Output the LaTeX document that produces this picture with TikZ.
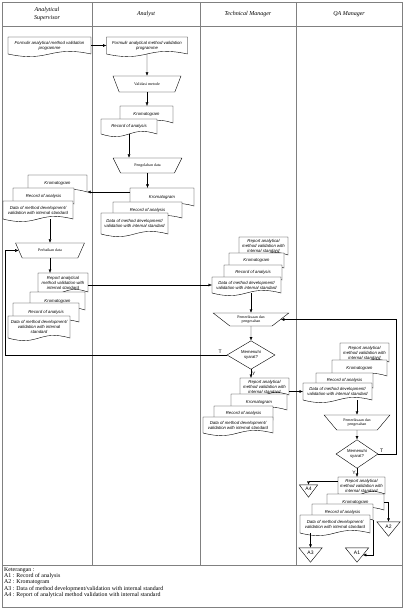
\documentclass[tikz,border=0pt]{standalone}
\usepackage{fontspec}
\setmainfont{Liberation Serif}
\setsansfont{Liberation Sans}
\usetikzlibrary{shapes.geometric, arrows.meta, positioning, calc}
\definecolor{lanecolor}{RGB}{128, 128, 128}

% document symbol: rectangle with a wavy bottom edge
\makeatletter
\pgfdeclareshape{wavedoc}{
  \inheritsavedanchors[from=rectangle]
  \inheritanchorborder[from=rectangle]
  \inheritanchor[from=rectangle]{center}
  \inheritanchor[from=rectangle]{north}
  \inheritanchor[from=rectangle]{south}
  \inheritanchor[from=rectangle]{east}
  \inheritanchor[from=rectangle]{west}
  \inheritanchor[from=rectangle]{north east}
  \inheritanchor[from=rectangle]{north west}
  \inheritanchor[from=rectangle]{south east}
  \inheritanchor[from=rectangle]{south west}
  \inheritanchor[from=rectangle]{mid}
  \inheritanchor[from=rectangle]{base}
  \backgroundpath{%
    \southwest \pgf@xa=\pgf@x \pgf@ya=\pgf@y
    \northeast \pgf@xb=\pgf@x \pgf@yb=\pgf@y
    \pgf@xc=.5\pgf@xa \advance\pgf@xc by .5\pgf@xb
    \pgf@yc=\pgf@ya \advance\pgf@yc by 9pt
    \pgf@yd=\pgf@ya \advance\pgf@yd by -9pt
    \pgfpathmoveto{\pgfqpoint{\pgf@xa}{\pgf@ya}}%
    \pgfpathlineto{\pgfqpoint{\pgf@xa}{\pgf@yb}}%
    \pgfpathlineto{\pgfqpoint{\pgf@xb}{\pgf@yb}}%
    \pgfpathlineto{\pgfqpoint{\pgf@xb}{\pgf@ya}}%
    \pgfpathcurveto{\pgfqpoint{\pgf@xc}{\pgf@yc}}{\pgfqpoint{\pgf@xc}{\pgf@yd}}{\pgfqpoint{\pgf@xa}{\pgf@ya}}%
    \pgfpathclose
  }
}
\makeatother

\begin{document}
\begin{tikzpicture}[
    x=1pt, y=-1pt,
    lane/.style={draw=lanecolor, line width=0.8pt},
    head/.style={font=\itshape\fontsize{6}{8}\selectfont, align=center},
    doc/.style={shape=wavedoc, draw, fill=white, line width=0.4pt, inner sep=0pt, outer sep=0pt, align=center, font=\sffamily\itshape\fontsize{4.3}{5}\selectfont},
    proc/.style={trapezium, trapezium stretches=true, shape border rotate=180, trapezium left angle=45, trapezium right angle=45, draw, fill=white, line width=0.4pt, inner sep=0pt, align=center, font=\fontsize{4}{4.8}\selectfont},
    decision/.style={diamond, draw, fill=white, line width=0.4pt, inner sep=0pt, align=center, font=\sffamily\fontsize{4.2}{5}\selectfont},
    offpage/.style={inner sep=0pt, font=\sffamily\fontsize{5}{5}\selectfont, append after command={\pgfextra{\draw[line width=0.4pt] (\tikzlastnode.north west) -- (\tikzlastnode.north east) -- ([yshift=-5pt]\tikzlastnode.south) -- cycle;}}},
    arr/.style={-{Latex[length=3.5pt, width=3pt]}, line width=0.4pt},
    lbl/.style={font=\sffamily\fontsize{5}{5}\selectfont, inner sep=1pt},
    legend/.style={font=\fontsize{5.9}{6.2}\selectfont, align=left, inner sep=0pt}
]
\useasboundingbox (0,0) rectangle (405,612);

% Lanes
\draw[lane] (2,2) rectangle (402,565);
\draw[lane] (2,26) -- (402,26);
\foreach \x in {92,200,296} \draw[lane] (\x,2) -- (\x,565);
\draw[lane] (2,565) rectangle (402,607);

\node[head] (hAS) at (47,14) {Analytical\\Supervisor};
\node[head] (hAN) at (146,14) {Analyst};
\node[head] (hTM) at (248,14) {Technical Manager};
\node[head] (hQA) at (349,14) {QA Manager};

% Programme
\node[doc, minimum width=83, minimum height=17] (as1) at (49.5,45.5) {Formulir analytical method validation\\programme};
\node[doc, minimum width=81, minimum height=17] (an1) at (147,45.5) {Formulir analytical method validation\\programme};
\draw[arr] (as1.east) -- (an1.west);

% Analyst
\node[proc, minimum width=68, minimum height=16] (valid) at (147,84) {Validasi metode};
\draw[arr] (an1.south) -- (valid.north);

\node[doc, minimum width=53, minimum height=17] (ankrom1) at (146.5,114.5) {Kromatogram};
\node[doc, minimum width=56, minimum height=15] (anrec1) at (129,126.5) {Record of analysis};
\draw[arr] (valid.south) -- (valid.south |- ankrom1.north);

\node[proc, minimum width=69, minimum height=15] (peng) at (147.5,165.5) {Pengolahan data};
\draw[arr] (anrec1.south) -- (anrec1.south |- peng.north);

\node[doc, minimum width=64, minimum height=18] (ankrom2) at (162,197) {Kromatogram};
\node[doc, minimum width=69, minimum height=16] (anrec2) at (147.5,210) {Record of analysis};
\node[doc, minimum width=67, minimum height=21] (andat2) at (134.5,223.5) {Data of method development/\\validation with internal standard};
\draw[arr] (peng.south) -- (peng.south |- ankrom2.north);

% Analytical Supervisor
\node[doc, minimum width=59, minimum height=17] (askrom1) at (57.5,183.5) {Kromatogram};
\node[doc, minimum width=61, minimum height=16] (asrec1) at (43.5,196) {Record of analysis};
\node[doc, minimum width=70, minimum height=18] (asdat1) at (38,210) {Data of method development/\\validation with internal standard};
\coordinate (ret) at ([yshift=5pt]ankrom2.west);
\draw[arr] (ret) -- (ret -| askrom1.east);

\node[proc, minimum width=69, minimum height=15] (perb) at (50,250.5) {Perbaikan data};
\draw[arr] (perb.north |- asdat1.south) -- (perb.north);

\node[doc, minimum width=50, minimum height=19] (asrep) at (63,282.5) {Report analytical\\method validation with\\internal standard};
\node[doc, minimum width=55, minimum height=18] (askrom2) at (57.5,301) {Kromatogram};
\node[doc, minimum width=66, minimum height=19] (asrec2) at (46,312.5) {Record of analysis};
\node[doc, minimum width=62, minimum height=22] (asdat2) at (39,327) {Data of method development/\\validation with internal\\standard};
\draw[arr] (perb.south) -- (perb.south |- asrep.north);

% Technical Manager
\node[doc, minimum width=49, minimum height=18] (tmrep1) at (263.5,246) {Report analytical\\method validation with\\internal standard};
\node[doc, minimum width=55, minimum height=15] (tmkrom1) at (256.5,260.5) {Kromatogram};
\node[doc, minimum width=58, minimum height=15] (tmrec1) at (253,272.5) {Record of analysis};
\node[doc, minimum width=69, minimum height=16] (tmdat1) at (246.5,285) {Data of method development/\\validation with internal standard};
\draw[arr] (asrep.east |- tmdat1.west) -- (tmdat1.west);

\node[proc, minimum width=76, minimum height=13, trapezium left angle=38, trapezium right angle=38] (tmchk) at (251,319.5) {Pemeriksaan dan\\pengesahan};
\draw[arr] (tmchk.north |- tmdat1.south) -- (tmchk.north);
\node[decision, minimum width=48, minimum height=26] (tmdec) at (251,355) {Memenuhi\\syarat?};
\draw[arr] (tmchk.south) -- (tmdec.north);

\coordinate (loopL) at (5,0);
\draw[arr] (tmdec.west) -- node[lbl, above, pos=0.03] {T} (tmdec.west -| loopL) |- (perb.west);

\node[doc, minimum width=49, minimum height=17] (tmrep2) at (264.5,386.5) {Report analytical\\method validation with\\internal standard};
\node[doc, minimum width=56, minimum height=16] (tmkrom2) at (259,402) {Kromatogram};
\node[doc, minimum width=59, minimum height=14] (tmrec2) at (243.5,413) {Record of analysis};
\node[doc, minimum width=70, minimum height=16] (tmdat2) at (238,425) {Data of method development/\\validation with internal standard};
\draw[arr] (tmdec.south) -- node[lbl, right, pos=0.55] {Y} (tmdec.south |- tmrep2.north);

% QA Manager
\node[doc, minimum width=49, minimum height=19] (qarep1) at (364.5,352.5) {Report analytical\\method validation with\\internal standard};
\node[doc, minimum width=55, minimum height=16] (qakrom1) at (359.5,368) {Kromatogram};
\node[doc, minimum width=57, minimum height=15] (qarec1) at (344.5,380.5) {Record of analysis};
\node[doc, minimum width=69, minimum height=17] (qadat1) at (337.5,391.5) {Data of method development/\\validation with internal standard};
\draw[arr] (tmrep2.east |- qadat1.west) -- (qadat1.west);

\node[proc, minimum width=66, minimum height=15] (qachk) at (357,422.5) {Pemeriksaan dan\\pengesahan};
\draw[arr] (qachk.north |- qadat1.south) -- (qachk.north);
\node[decision, minimum width=42, minimum height=27] (qadec) at (357,454) {Memenuhi\\syarat?};
\draw[arr] (qachk.south) -- (qadec.north);

\coordinate (loopR) at (396,0);
\draw[arr] (qadec.east) -- node[lbl, above, pos=0.2] {T} (qadec.east -| loopR) |- (tmchk.east);

\node[doc, minimum width=47, minimum height=17] (qarep2) at (361.5,485.5) {Report analytical\\method validation with\\internal standard};
\node[doc, minimum width=57, minimum height=16] (qakrom2) at (355.5,502) {Kromatogram};
\node[doc, minimum width=61, minimum height=16] (qarec2) at (342.5,512) {Record of analysis};
\node[doc, minimum width=70, minimum height=18] (qadat2) at (335,524) {Data of method development/\\validation with internal standard};
\draw[arr] (qadec.south) -- node[lbl, left, pos=0.5] {Y} (qadec.south |- qarep2.north);

% Off-page connectors
\node[offpage, minimum width=18, minimum height=7] (a4) at (308.5,488.5) {A4};
\node[offpage, minimum width=23, minimum height=9] (a2) at (388.5,526.5) {A2};
\node[offpage, minimum width=23, minimum height=9] (a3) at (310.5,552.5) {A3};
\node[offpage, minimum width=23, minimum height=9] (a1) at (357,552.5) {A1};

\draw[arr] ([yshift=4pt]qarep2.west) -| (a4.north);
\draw[arr] (qakrom2.east) -| (a2.north);
\draw[arr] (a3.north |- qadat2.south) -- (a3.north);
\draw[arr] (qarec2.south east) |- ($(a1.north east)!0.5!([yshift=-5pt]a1.south)$);

% Legend
\node[legend, anchor=north west] (key) at (4,567.5) {Keterangan :\\A1 : Record of analysis\\A2 : Kromatogram\\A3 : Data of method development/validation with internal standard\\A4 : Report of analytical method validation with internal standard};

\end{tikzpicture}
\end{document}
